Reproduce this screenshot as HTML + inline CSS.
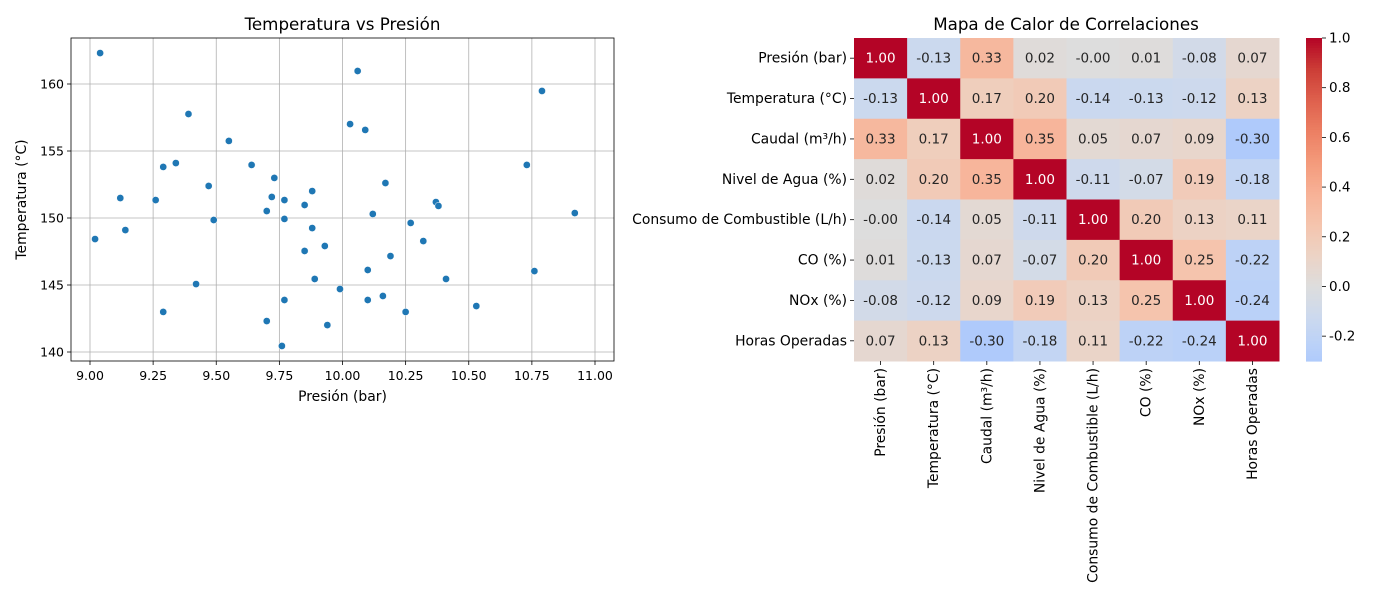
<!DOCTYPE html>
<html><head><meta charset="utf-8"><style>
body{margin:0;background:#fff;font-family:"Liberation Sans","DejaVu Sans",sans-serif}
svg text{font-family:"DejaVu Sans","Liberation Sans",sans-serif}
</style></head><body>
<svg id="chart" width="1400" height="600" xmlns="http://www.w3.org/2000/svg">
<rect width="1400" height="600" fill="#fff"/>
<g id="sc"></g>
<g id="hm"></g>
</svg>
<script>
const px = [9.04,9.02,9.12,9.14,9.26,9.29,9.29,9.34,9.39,9.42,9.47,9.49,9.55,9.64,9.70,9.70,9.72,9.73,9.77,9.77,9.77,9.76,9.85,9.85,9.88,9.88,9.89,9.93,9.94,9.99,10.03,10.06,10.09,10.10,10.10,10.12,10.16,10.17,10.19,10.25,10.27,10.32,10.37,10.38,10.41,10.53,10.73,10.79,10.76,10.92];
const py = [162.31,148.43,151.49,149.10,151.34,153.81,142.99,154.10,157.76,145.07,152.39,149.85,155.75,153.96,150.52,142.31,151.57,152.99,151.34,149.93,143.88,140.45,150.97,147.54,152.01,149.25,145.45,147.91,142.01,144.70,157.01,160.97,156.57,146.12,143.88,150.30,144.18,152.61,147.16,142.99,149.63,148.28,151.19,150.90,145.45,143.43,153.96,159.48,146.04,150.37];
const xTicks = [9.00,9.25,9.50,9.75,10.00,10.25,10.50,10.75,11.00];
const yTicks = [140,145,150,155,160];
const labels = ["Presión (bar)","Temperatura (°C)","Caudal (m³/h)","Nivel de Agua (%)","Consumo de Combustible (L/h)","CO (%)","NOx (%)","Horas Operadas"];
const corr = [
[1.00,-0.13,0.33,0.02,-0.001,0.01,-0.08,0.07],
[-0.13,1.00,0.17,0.20,-0.14,-0.13,-0.12,0.13],
[0.33,0.17,1.00,0.35,0.05,0.07,0.09,-0.30],
[0.02,0.20,0.35,1.00,-0.11,-0.07,0.19,-0.18],
[-0.001,-0.14,0.05,-0.11,1.00,0.20,0.13,0.11],
[0.01,-0.13,0.07,-0.07,0.20,1.00,0.25,-0.22],
[-0.08,-0.12,0.09,0.19,0.13,0.25,1.00,-0.24],
[0.07,0.13,-0.30,-0.18,0.11,-0.22,-0.24,1.00]];
const cbTicks = [-0.2,0.0,0.2,0.4,0.6,0.8,1.0];

const NS="http://www.w3.org/2000/svg";
const FS=13.9, FT=16.7, FC=13.9;
function mk(tag,attrs,parent,text){const e=document.createElementNS(NS,tag);for(const k in attrs)e.setAttribute(k,attrs[k]);if(text!==undefined)e.textContent=text;parent.appendChild(e);return e;}
function fmt(v){const s=v.toFixed(2);return (v<0&&s==='0.00')?'-0.00':s;}
const sc=document.getElementById('sc'), hm=document.getElementById('hm');
const L=71,R=614,T=38,B=361;
const X=v=>90+(v-9)*252.5, Y=v=>84-(v-160)*13.4;
xTicks.forEach(t=>{const x=X(t);
 let g=mk('line',{x1:x,x2:x,y1:T,y2:B,stroke:'#b0b0b0','stroke-width':0.8},sc);
 mk('line',{x1:x,x2:x,y1:B,y2:B+4,stroke:'#000','stroke-width':0.8},sc);
 let l=mk('text',{x:x,y:B+19,'text-anchor':'middle','font-size':12.5},sc,t.toFixed(2));});
yTicks.forEach(t=>{const y=Y(t);
 let g=mk('line',{x1:L,x2:R,y1:y,y2:y,stroke:'#b0b0b0','stroke-width':0.8},sc);
 mk('line',{x1:L-4,x2:L,y1:y,y2:y,stroke:'#000','stroke-width':0.8},sc);
 let l=mk('text',{x:L-7,y:y+4.5,'text-anchor':'end','font-size':12.5},sc,t);});
px.forEach((v,i)=>{const c=mk('circle',{cx:X(v),cy:Y(py[i]),r:3.6,fill:'#1f77b4',stroke:'#fff','stroke-width':0.5},sc);
 });
let fr=mk('rect',{x:L,y:T,width:R-L,height:B-T,fill:'none',stroke:'#000','stroke-width':0.8},sc);
let t1=mk('text',{x:(L+R)/2,y:30,'text-anchor':'middle','font-size':FT},sc,'Temperatura vs Presión');
let xl=mk('text',{x:(L+R)/2,y:401,'text-anchor':'middle','font-size':FC},sc,'Presión (bar)');
let yl=mk('text',{x:0,y:0,'text-anchor':'middle','font-size':FC,transform:`translate(26,${(T+B)/2}) rotate(-90)`},sc,'Temperatura (°C)');
const cm=[[0,59,76,192],[0.125,98,130,234],[0.25,141,176,254],[0.3125,162,193,255],[0.375,184,208,249],[0.4375,204,217,238],[0.5,221,221,221],[0.5625,236,211,197],[0.625,245,196,173],[0.6875,247,177,150],[0.75,244,154,123],[0.8125,236,127,99],[0.875,222,96,77],[0.9375,204,61,54],[1,180,4,38]];
function cmap(v){const t=Math.max(0,Math.min(1,0.5+v/2));for(let i=1;i<cm.length;i++){if(t<=cm[i][0]){const a=cm[i-1],b=cm[i],f=(t-a[0])/(b[0]-a[0]);return `rgb(${[1,2,3].map(k=>Math.round(a[k]+(b[k]-a[k])*f)).join(',')})`;}}return 'rgb(180,4,38)';}
const HX=854,HY=38,CW=425/8,CH=323/8;
corr.forEach((row,i)=>row.forEach((v,j)=>{
 const r=mk('rect',{x:HX+j*CW,y:HY+i*CH,width:CW+0.5,height:CH+0.5,fill:cmap(v)},hm);
 const tx=mk('text',{x:HX+(j+.5)*CW,y:HY+(i+.5)*CH+4.5,'text-anchor':'middle','font-size':13.5,fill:v>0.7?'#fff':'#262626'},hm,fmt(v));
}));
labels.forEach((s,i)=>{const y=HY+(i+.5)*CH;
 mk('line',{x1:HX-4,x2:HX,y1:y,y2:y,stroke:'#000','stroke-width':0.8},hm);
 let l=mk('text',{x:HX-7,y:y+4.5,'text-anchor':'end','font-size':FS},hm,s);
 const x=HX+(i+.5)*CW;
 mk('line',{x1:x,x2:x,y1:361,y2:365,stroke:'#000','stroke-width':0.8},hm);
 let c=mk('text',{x:0,y:0,'text-anchor':'end','font-size':FS,transform:`translate(${x+4.5},368) rotate(-90)`},hm,s);});
let t2=mk('text',{x:HX+212,y:30,'text-anchor':'middle','font-size':FT},hm,'Mapa de Calor de Correlaciones');
const CBX=1306,CBW=16,vmin=-0.3,vmax=1.0,CB=v=>38+(vmax-v)/(vmax-vmin)*323;
for(let k=0;k<130;k++){const v0=vmax-k*(vmax-vmin)/130;
 mk('rect',{x:CBX,y:CB(v0),width:CBW,height:323/130+0.6,fill:cmap(v0-0.005)},hm);}
let cbf=mk('rect',{x:CBX,y:38,width:CBW,height:323,fill:'none',stroke:'none'},hm);
cbTicks.forEach(t=>{const y=CB(t);mk('line',{x1:CBX+CBW,x2:CBX+CBW+4,y1:y,y2:y,stroke:'#000','stroke-width':0.8},hm);
 let l=mk('text',{x:CBX+CBW+7,y:y+4.5,'font-size':13.5},hm,t.toFixed(1));});
</script>
</body></html>
